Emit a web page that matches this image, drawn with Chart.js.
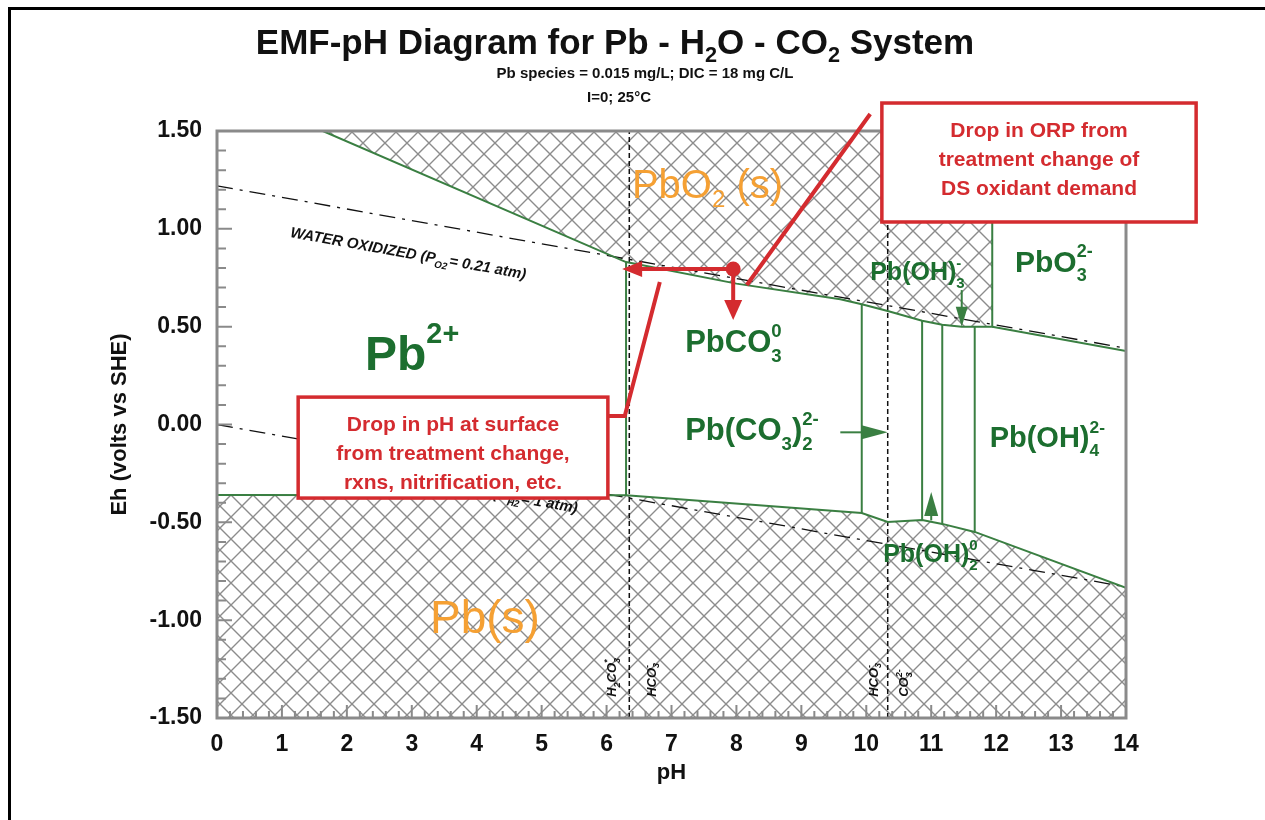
<!DOCTYPE html>
<html>
<head>
<meta charset="utf-8">
<script src="https://cdn.jsdelivr.net/npm/chart.js@4.4.0/dist/chart.umd.min.js"></script>
<style>
  html, body { margin: 0; padding: 0; background: #fff; }
  canvas { display: block; }
</style>
</head>
<body>
<canvas id="emf" width="1265" height="820"></canvas>
<script>
// ticks
let phTicks = [0, 1, 2, 3, 4, 5, 6, 7, 8, 9, 10, 11, 12, 13, 14];
let ehTicks = [-1.5, -1.0, -0.5, 0.0, 0.5, 1.0, 1.5];

// water stability lines
let o2Ph = [0, 14];
let o2Eh = [1.22, 0.39];
let h2Ph = [0, 14];
let h2Eh = [0.0, -0.83];

// lower edge of PbO2(s) field (ends going up the PbO2 / PbO3 2- boundary)
let pbo2Ph = [1.63, 6.30, 8.00, 9.60, 9.93, 10.33, 10.86, 11.17, 11.47, 11.94, 11.94];
let pbo2Eh = [1.50, 0.83, 0.72, 0.64, 0.615, 0.58, 0.53, 0.51, 0.50, 0.50, 1.50];

// PbO3 2- / Pb(OH)4 2- boundary
let pbo3Ph = [11.94, 14];
let pbo3Eh = [0.50, 0.375];

// upper edge of Pb(s) field
let pbPh = [0, 6.30, 9.93, 10.33, 10.86, 11.17, 11.67, 14];
let pbEh = [-0.36, -0.362, -0.452, -0.498, -0.488, -0.508, -0.549, -0.835];

// vertical boundaries between dissolved species
let vertPh = [6.30, 9.93, 10.86, 11.17, 11.67];
let vertTop = [0.83, 0.615, 0.53, 0.51, 0.50];
let vertBot = [-0.362, -0.452, -0.488, -0.508, -0.549];

// carbonate pKa lines
let pkaPh = [6.35, 10.33];

const FONT = '"Liberation Sans", Arial, sans-serif';
const GREEN = '#3a7f42';
const GREEN_TXT = '#1c6e2f';
const ORANGE = '#f5a033';
const RED = '#d42b2f';

const canvas = document.getElementById('emf');
const ctx0 = canvas.getContext('2d');

// cross hatch pattern
const tile = document.createElement('canvas');
tile.width = 22; tile.height = 22;
const tg = tile.getContext('2d');
tg.strokeStyle = '#8c8c8c';
tg.lineWidth = 1.4;
tg.beginPath();
tg.moveTo(-2, -2); tg.lineTo(24, 24);
tg.moveTo(24, -2); tg.lineTo(-2, 24);
tg.stroke();
const hatch = ctx0.createPattern(tile, 'repeat');

const pts = (xs, ys) => xs.map((x, i) => ({ x: x, y: ys[i] }));

function chem(ctx, parts, x, y, o) {
  const size = o.size, small = size * (o.ratio || 0.6);
  const base = (o.style || 'normal') + ' ' + (o.weight || 'bold') + ' ';
  let x0 = 0;
  const run = (draw) => {
    let cx = 0;
    for (const p of parts) {
      if (typeof p === 'string') {
        ctx.font = base + size + 'px ' + FONT;
        if (draw) ctx.fillText(p, x0 + cx, y);
        cx += ctx.measureText(p).width;
      } else {
        ctx.font = base + small + 'px ' + FONT;
        let w = 0;
        if (p.sup) {
          if (draw) ctx.fillText(p.sup, x0 + cx, y - size * (o.up || 0.45));
          w = Math.max(w, ctx.measureText(p.sup).width);
        }
        if (p.sub) {
          if (draw) ctx.fillText(p.sub, x0 + cx, y + size * (o.down || 0.28));
          w = Math.max(w, ctx.measureText(p.sub).width);
        }
        cx += w + (p.gap || 0);
      }
    }
    return cx;
  };
  ctx.textAlign = 'left';
  ctx.textBaseline = 'alphabetic';
  const w = run(false);
  x0 = o.align === 'center' ? x - w / 2 : o.align === 'right' ? x - w : x;
  run(true);
  return w;
}

function arrow(ctx, x1, y1, x2, y2, color, lw, hl, hw) {
  const a = Math.atan2(y2 - y1, x2 - x1);
  ctx.save();
  ctx.strokeStyle = color; ctx.fillStyle = color; ctx.lineWidth = lw;
  ctx.beginPath();
  ctx.moveTo(x1, y1);
  ctx.lineTo(x2 - Math.cos(a) * hl * 0.8, y2 - Math.sin(a) * hl * 0.8);
  ctx.stroke();
  ctx.translate(x2, y2); ctx.rotate(a);
  ctx.beginPath();
  ctx.moveTo(0, 0); ctx.lineTo(-hl, -hw); ctx.lineTo(-hl, hw); ctx.closePath();
  ctx.fill();
  ctx.restore();
}

// species labels [parts, pH, Eh, size, colour, weight]
let speciesLabels = [
  [['Pb', { sup: '2+' }], 2.28, 0.28, 48, GREEN_TXT, 'bold'],
  [['PbCO', { sub: '3', sup: '0' }], 7.21, 0.37, 31, GREEN_TXT, 'bold'],
  [['Pb(CO', { sub: '3' }, ')', { sub: '2', sup: '2-' }], 7.21, -0.08, 31, GREEN_TXT, 'bold'],
  [['Pb(OH)', { sub: '4', sup: '2-' }], 11.9, -0.115, 29, GREEN_TXT, 'bold'],
  [['PbO', { sub: '3', sup: '2-' }], 12.29, 0.78, 30, GREEN_TXT, 'bold'],
  [['Pb(OH)', { sub: '3', sup: '-' }], 10.06, 0.738, 25, GREEN_TXT, 'bold'],
  [['Pb(OH)', { sub: '2', sup: '0' }], 10.26, -0.703, 25, GREEN_TXT, 'bold'],
  [['PbO', { sub: '2' }, ' (s)'], 6.39, 1.157, 40, ORANGE, 'normal'],
  [['Pb(s)'], 3.28, -1.065, 46, ORANGE, 'normal']
];

// carbonate species tags near the bottom [parts, pH]
let carbTags = [
  [['H', { sub: '2' }, 'CO', { sub: '3', sup: '*' }], 6.07],
  [['HCO', { sub: '3', sup: '-' }], 6.68],
  [['HCO', { sub: '3', sup: '-' }], 10.10],
  [['CO', { sub: '3', sup: '2-' }], 10.57]
];

const decor = {
  id: 'decor',
  beforeDraw(chart) {
    const c = chart.ctx;
    c.save();
    c.fillStyle = '#fff';
    c.fillRect(0, 0, chart.width, chart.height);
    c.restore();
  },
  afterDatasetsDraw(chart) {
    const c = chart.ctx;
    const xs = chart.scales.x, ys = chart.scales.y;
    const X = v => xs.getPixelForValue(v);
    const Y = v => ys.getPixelForValue(v);
    const area = chart.chartArea;

    // frame
    c.save();
    c.strokeStyle = '#8a8a8a';
    c.lineWidth = 3;
    c.strokeRect(area.left, area.top, area.right - area.left, area.bottom - area.top);
    // inner ticks
    c.lineWidth = 2;
    c.beginPath();
    for (let i = -15; i <= 15; i++) {
      const y = Y(i / 10);
      const len = i % 5 === 0 ? 15 : 9;
      c.moveTo(area.left, y); c.lineTo(area.left + len, y);
    }
    for (let i = 0; i <= 70; i++) {
      const x = X(i / 5);
      const len = i % 5 === 0 ? 13 : 7;
      c.moveTo(x, area.bottom); c.lineTo(x, area.bottom - len);
    }
    c.stroke();
    c.restore();

    // water line labels
    const ang = Math.atan2(Y(o2Eh[1]) - Y(o2Eh[0]), X(o2Ph[1]) - X(o2Ph[0]));
    c.save();
    c.fillStyle = '#111';
    c.translate(X(1.12), Y(0.958));
    c.rotate(ang);
    chem(c, ['WATER OXIDIZED (P', { sub: 'O2', gap: 1 }, '= 0.21 atm)'], 0, 0,
      { size: 15, weight: 'bold', style: 'italic', down: 0.3, ratio: 0.65 });
    c.restore();
    c.save();
    c.fillStyle = '#111';
    c.translate(X(5.54), Y(-0.452));
    c.rotate(ang);
    chem(c, ['WATER REDUCED (P', { sub: 'H2', gap: 1 }, '= 1 atm)'], 0, 0,
      { size: 15, weight: 'bold', style: 'italic', down: 0.3, ratio: 0.65, align: 'right' });
    c.restore();

    // carbonate tags
    c.save();
    c.fillStyle = '#111';
    carbTags.forEach(t => {
      c.save();
      c.translate(X(t[1]) + 5, Y(-1.392));
      c.rotate(-Math.PI / 2);
      chem(c, t[0], 0, 0, { size: 13, weight: 'bold', style: 'italic', ratio: 0.7 });
      c.restore();
    });
    c.restore();

    // species labels
    speciesLabels.forEach(l => {
      c.save();
      c.fillStyle = l[4];
      const big = l[0][0] === 'Pb' && l[0].length === 2 && l[0][1].sup === '2+';
      chem(c, l[0], X(l[1]), Y(l[2]), {
        size: l[3], weight: l[5],
        up: big ? 0.55 : 0.5, down: l[4] === ORANGE ? 0.22 : 0.32, ratio: 0.6
      });
      c.restore();
    });

    // green pointer arrows
    arrow(c, X(9.6), Y(-0.04), X(10.33), Y(-0.04), GREEN, 2, 26, 7);
    arrow(c, X(11.0), Y(-0.49), X(11.0), Y(-0.345), GREEN, 2, 24, 7);
    arrow(c, X(11.47), Y(0.687), X(11.47), Y(0.50), GREEN, 2, 20, 6);

    // red annotations
    c.save();
    c.strokeStyle = RED;
    c.lineWidth = 4;
    c.beginPath();
    c.moveTo(X(10.06), Y(1.587)); c.lineTo(X(8.16), Y(0.713));
    c.moveTo(X(6.82), Y(0.728)); c.lineTo(X(6.28), Y(0.043)); c.lineTo(X(6.02), Y(0.043));
    c.stroke();
    c.restore();
    arrow(c, X(7.95), Y(0.795), X(6.24), Y(0.795), RED, 4, 20, 8);
    arrow(c, X(7.95), Y(0.795), X(7.95), Y(0.534), RED, 4, 20, 9);
    c.save();
    c.fillStyle = RED;
    c.beginPath();
    c.arc(X(7.95), Y(0.795), 7.5, 0, Math.PI * 2);
    c.fill();
    c.restore();

    const boxes = [
      [10.24, 15.08, 1.643, 1.035, ['Drop in ORP from', 'treatment change of', 'DS oxidant demand']],
      [1.25, 6.02, 0.14, -0.376, ['Drop in pH at surface', 'from treatment change,', 'rxns, nitrification, etc.']]
    ];
    boxes.forEach(b => {
      const x1 = X(b[0]), x2 = X(b[1]), y1 = Y(b[2]), y2 = Y(b[3]);
      c.save();
      c.fillStyle = '#fff';
      c.fillRect(x1, y1, x2 - x1, y2 - y1);
      c.strokeStyle = RED;
      c.lineWidth = 3.5;
      c.strokeRect(x1, y1, x2 - x1, y2 - y1);
      c.fillStyle = RED;
      c.font = 'bold 21px ' + FONT;
      c.textAlign = 'center';
      c.textBaseline = 'alphabetic';
      b[4].forEach((t, i) => c.fillText(t, (x1 + x2) / 2, y1 + 34 + i * 29));
      c.restore();
    });
  },
  afterDraw(chart) {
    const c = chart.ctx;
    c.save();
    c.fillStyle = '#111';
    chem(c, ['EMF-pH Diagram for Pb - H', { sub: '2' }, 'O - CO', { sub: '2' }, ' System'], 615, 54,
      { size: 35, weight: 'bold', align: 'center', down: 0.22, ratio: 0.62 });
    c.font = 'bold 15px ' + FONT;
    c.textAlign = 'center';
    c.fillText('Pb species = 0.015 mg/L; DIC = 18 mg C/L', 645, 78);
    c.fillText('I=0; 25\u00B0C', 619, 102);
    // outer border
    c.strokeStyle = '#000';
    c.lineWidth = 3;
    c.beginPath();
    c.moveTo(9.5, chart.height); c.lineTo(9.5, 8.5); c.lineTo(chart.width, 8.5);
    c.stroke();
    c.restore();
  }
};

const base = { showLine: true, pointRadius: 0, fill: false, tension: 0 };

let datasets = [
  Object.assign({}, base, { data: pts(pbo2Ph, pbo2Eh), borderColor: GREEN, borderWidth: 2, order: 1 }),
  Object.assign({}, base, { data: pts(pbo3Ph, pbo3Eh), borderColor: GREEN, borderWidth: 2, order: 1 }),
  Object.assign({}, base, { data: pts(pbPh, pbEh), borderColor: GREEN, borderWidth: 2, order: 1 })
];
vertPh.forEach((p, i) => {
  datasets.push(Object.assign({}, base, {
    data: [{ x: p, y: vertBot[i] }, { x: p, y: vertTop[i] }],
    borderColor: GREEN, borderWidth: 2, order: 1
  }));
});
pkaPh.forEach(p => {
  datasets.push(Object.assign({}, base, {
    data: [{ x: p, y: ehTicks[0] }, { x: p, y: ehTicks[ehTicks.length - 1] }],
    borderColor: '#111', borderWidth: 1.5, borderDash: [5, 3], order: 4
  }));
});
datasets.push(Object.assign({}, base, {
  data: pts(o2Ph, o2Eh), borderColor: '#111', borderWidth: 1.3, borderDash: [16, 7, 3, 7], order: 5
}));
datasets.push(Object.assign({}, base, {
  data: pts(h2Ph, h2Eh), borderColor: '#111', borderWidth: 1.3, borderDash: [16, 7, 3, 7], order: 5
}));
// hatched solid fields
datasets.push(Object.assign({}, base, {
  data: pts(pbo2Ph, pbo2Eh), borderWidth: 0, borderColor: 'rgba(0,0,0,0)',
  fill: 'end', backgroundColor: hatch, order: 10
}));
datasets.push(Object.assign({}, base, {
  data: pts(pbPh, pbEh), borderWidth: 0, borderColor: 'rgba(0,0,0,0)',
  fill: 'start', backgroundColor: hatch, order: 10
}));

const tickFont = { family: FONT, size: 23, weight: 'bold' };

new Chart(canvas, {
  type: 'scatter',
  data: { datasets: datasets },
  plugins: [decor],
  options: {
    responsive: false,
    animation: false,
    devicePixelRatio: 1,
    layout: { padding: { left: 0, top: 131, right: 139, bottom: 0 } },
    plugins: {
      legend: { display: false },
      tooltip: { enabled: false },
      title: { display: false }
    },
    scales: {
      x: {
        type: 'linear',
        min: 0,
        max: 14,
        afterBuildTicks: s => { s.ticks = phTicks.map(v => ({ value: v })); },
        afterFit: s => { s.height = 102; },
        grid: { display: false, drawTicks: false },
        border: { display: false },
        ticks: { font: tickFont, color: '#111', padding: 13, maxRotation: 0, autoSkip: false },
        title: { display: true, text: 'pH', font: { family: FONT, size: 22, weight: 'bold' }, color: '#111', padding: { top: 0, bottom: 34 } }
      },
      y: {
        type: 'linear',
        min: -1.5,
        max: 1.5,
        afterBuildTicks: s => { s.ticks = ehTicks.map(v => ({ value: v })); },
        afterFit: s => { s.width = 217; },
        grid: { display: false, drawTicks: false },
        border: { display: false },
        ticks: { font: tickFont, color: '#111', padding: 15, callback: v => v.toFixed(2) },
        title: { display: true, text: 'Eh (volts vs SHE)', font: { family: FONT, size: 22, weight: 'bold' }, color: '#111', padding: { top: 107, bottom: 0 } }
      }
    }
  }
});
</script>
</body>
</html>
